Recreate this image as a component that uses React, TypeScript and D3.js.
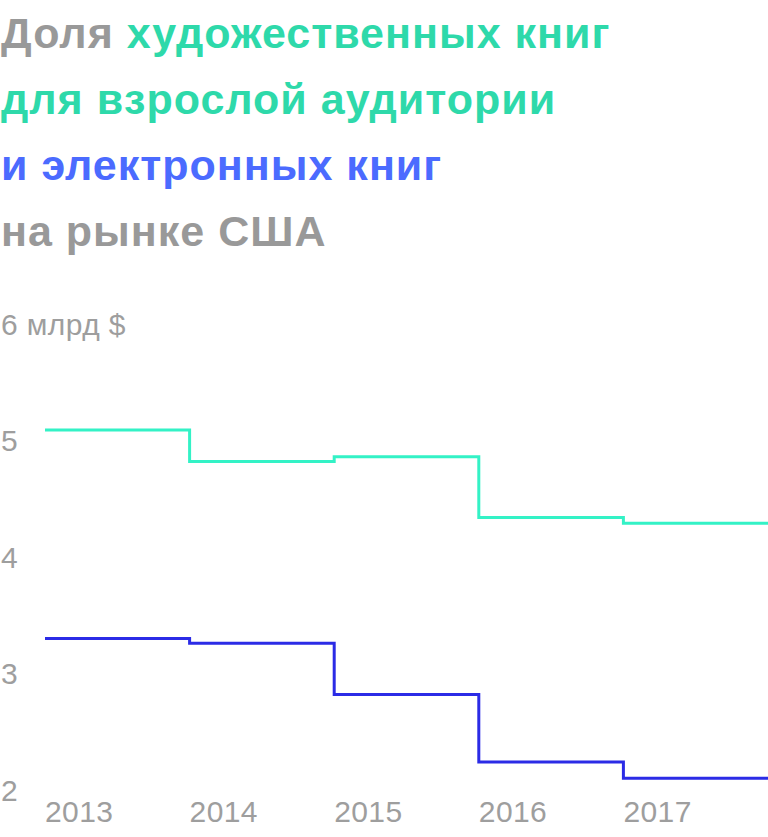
import React from "react";
import * as d3 from "d3";

// Sales of adult fiction and e-books in the US, billion $
const years = [2013, 2014, 2015, 2016, 2017];
const adultFiction = [5.09, 4.82, 4.86, 4.34, 4.29];
const ebooks = [3.3, 3.26, 2.82, 2.24, 2.1];
const yTicks = [6, 5, 4, 3, 2];
const yTickLabels = ["6 млрд $", "5", "4", "3", "2"];

const titleLines: { text: string; color: string }[][] = [
  [
    { text: "Доля ", color: "#999999" },
    { text: "художественных книг", color: "#2ED9AA" },
  ],
  [{ text: "для взрослой аудитории", color: "#2ED9AA" }],
  [{ text: "и электронных книг", color: "#4B6BFF" }],
  [{ text: "на рынке США", color: "#999999" }],
];

const W = 768;
const H = 837;
const FONT = "'Liberation Sans', Arial, sans-serif";

export default function App() {
  const x = d3.scaleLinear().domain([2013, 2018]).range([45, 768]);
  const y = d3.scaleLinear().domain([2, 6]).range([790, 324]);

  const stepLine = d3
    .line<[number, number]>()
    .x((d) => x(d[0]))
    .y((d) => y(d[1]))
    .curve(d3.curveStepAfter);

  const pts = (vals: number[]): [number, number][] => {
    const p: [number, number][] = years.map((yr, i) => [yr, vals[i]]);
    p.push([years[years.length - 1] + 1, vals[vals.length - 1]]);
    return p;
  };

  return (
    <svg
      width={W}
      height={H}
      style={{ position: "absolute", left: 0, top: 0, display: "block" }}
    >
      <rect width={W} height={H} fill="#fff" />
      <g fontFamily={FONT} fontWeight={700} fontSize={43} letterSpacing={1}>
        {titleLines.map((line, i) => (
          <text key={i} x={1} y={48 + i * 66}>
            {line.map((s, j) => (
              <tspan key={j} fill={s.color}>
                {s.text}
              </tspan>
            ))}
          </text>
        ))}
      </g>
      <g fontFamily={FONT} fontSize={30} fill="#9e9e9e" letterSpacing={0.4}>
        {yTicks.map((t, i) => (
          <text key={t} x={1} y={y(t)} dy="0.36em">
            {yTickLabels[i]}
          </text>
        ))}
        {years.map((yr) => (
          <text key={yr} x={x(yr)} y={822}>
            {yr}
          </text>
        ))}
      </g>
      <path
        d={stepLine(pts(adultFiction)) ?? ""}
        fill="none"
        stroke="#33F2C6"
        strokeWidth={3}
      />
      <path
        d={stepLine(pts(ebooks)) ?? ""}
        fill="none"
        stroke="#2B2BE6"
        strokeWidth={3}
      />
    </svg>
  );
}
